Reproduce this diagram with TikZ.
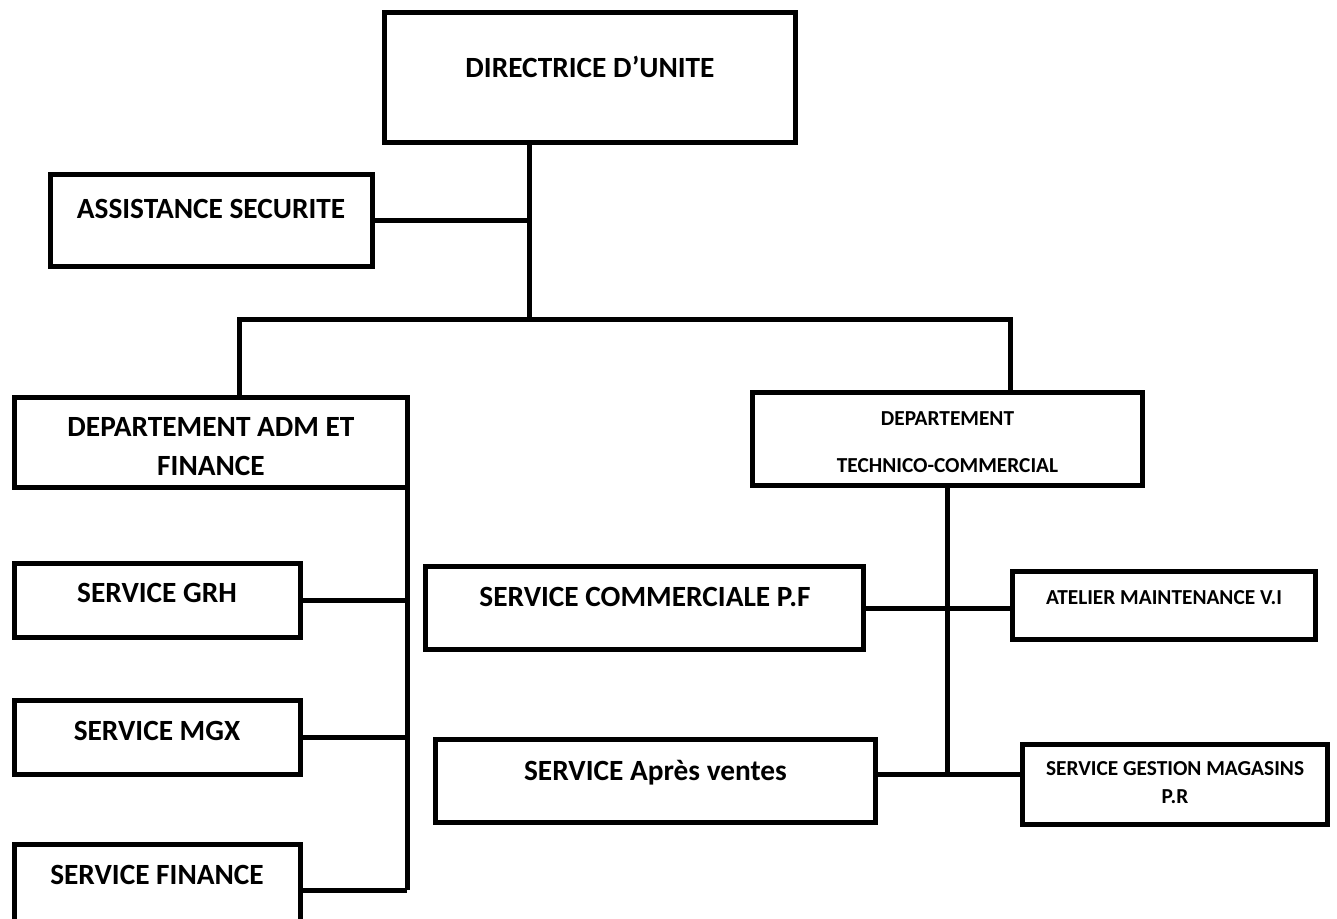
\documentclass[tikz,border=0pt]{standalone}
\usepackage{fontspec}
\setmainfont{Carlito}
\usetikzlibrary{fit}
\begin{document}
\begin{tikzpicture}[x=0.75pt,y=-0.75pt,
  line width=3.75pt,
  box/.style={draw=black, line width=3.75pt, rectangle, inner sep=0pt},
  conn/.style={draw=black, line width=3.75pt},
  big/.style={inner sep=0pt, anchor=base, font=\fontsize{22}{28.9}\selectfont\bfseries},
  small/.style={inner sep=0pt, anchor=base, font=\fontsize{16}{21}\selectfont\bfseries}]
\useasboundingbox (0,0) rectangle (1337,918);
\clip (0,0) rectangle (1337,918);
% boxes
\node[box, fit={(384.5,12.5) (795.5,142.5)}] (dir) {};
\node[box, fit={(50.5,174.5) (372.5,266.5)}] (asst) {};
\node[box, fit={(14.5,397.5) (407.5,487.5)}] (adm) {};
\node[box, fit={(14.5,563.5) (300.5,637.5)}] (grh) {};
\node[box, fit={(14.5,700.5) (300.5,774.5)}] (mgx) {};
\node[box, fit={(14.5,844.5) (300.5,935)}] (fin) {};
\node[box, fit={(752.5,392.5) (1142.5,485.5)}] (tc) {};
\node[box, fit={(425.5,566.5) (863.5,649.5)}] (com) {};
\node[box, fit={(1012.5,571.5) (1315.5,639.5)}] (atl) {};
\node[box, fit={(435.5,739.5) (875.5,822.5)}] (apv) {};
\node[box, fit={(1022.5,744.5) (1327.5,824.5)}] (ges) {};
% texts
\node[big] (dir-t) at (590,77.5) {DIRECTRICE D’UNITE};
\node[big] (asst-t) at (211,218.5) {ASSISTANCE SECURITE};
\node[big, anchor=center, align=center] (adm-t) at (211,446.75) {DEPARTEMENT ADM ET\\FINANCE};
\node[big] (grh-t) at (157,602.5) {SERVICE GRH};
\node[big] (mgx-t) at (157,740.5) {SERVICE MGX};
\node[big] (fin-t) at (157,884.5) {SERVICE FINANCE};
\node[small, anchor=center, align=center, font=\fontsize{16}{35.25}\selectfont\bfseries] (tc-t) at (947.5,442.5) {DEPARTEMENT\\TECHNICO-COMMERCIAL};
\node[big] (com-t) at (645,606.5) {SERVICE COMMERCIALE P.F};
\node[small] (atl-t) at (1164,604) {ATELIER MAINTENANCE V.I};
\node[big] (apv-t) at (655.5,780) {SERVICE Après ventes};
\node[small, anchor=center, align=center] (ges-t) at (1175,783) {SERVICE GESTION MAGASINS\\P.R};
% junction coordinates
\coordinate (j1) at (529,220);
\coordinate (busM) at (529,319);
\coordinate (busL) at (239,319);
\coordinate (busR) at (1010,319);
\coordinate (lt) at (407,890);
\coordinate (rt) at (947,774);
% connectors
\draw[conn] (dir.south -| busM) -- (busM);
\draw[conn] (asst.east |- j1) -- (j1);
\draw[conn] (adm.north -| busL) -- (busL) -- (busR) -- (tc.north -| busR);
\draw[conn] (adm.south -| lt) -- (lt);
\draw[conn] (grh.east) -- (grh.east -| lt);
\draw[conn] (mgx.east) -- (mgx.east -| lt);
\draw[conn] (fin.east |- lt) -- (lt);
\draw[conn] (tc.south -| rt) -- (rt);
\draw[conn] (com.east) -- (com.east -| atl.west);
\draw[conn] (apv.east |- rt) -- (ges.west |- rt);
\end{tikzpicture}
\end{document}
